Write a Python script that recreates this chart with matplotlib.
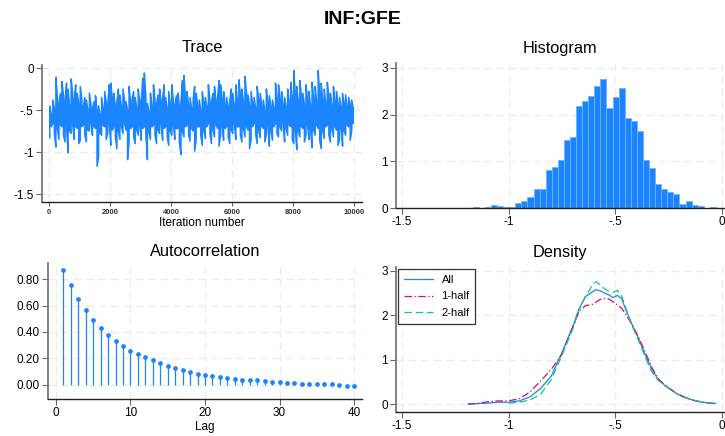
import numpy as np
import matplotlib.pyplot as plt

plt.rcParams['font.family'] = ['Liberation Sans', 'DejaVu Sans']

BLUE = '#1a85ff'
RED = '#d41159'
GREEN = '#1ac28a'
GRID = '#ebebeb'

# trace: per 50-iteration chunk, highest and lowest draw
trace_hi = [-0.45, -0.55, -0.38, -0.48, -0.11, -0.35, -0.42, -0.30, -0.16, -0.33,
            -0.40, -0.18, -0.25, -0.45, -0.13, -0.30, -0.38, -0.20, -0.30, -0.42,
            -0.22, -0.36, -0.45, -0.35, -0.38, -0.50, -0.30, -0.44, -0.48, -0.40,
            -0.33, -0.52, -0.45, -0.55, -0.35, -0.48, -0.28, -0.40, -0.44, -0.20,
            -0.18, -0.36, -0.30, -0.45, -0.40, -0.25, -0.32, -0.46, -0.25, -0.38,
            -0.40, -0.50, -0.22, -0.42, -0.36, -0.28, -0.35, -0.47, -0.25, -0.40,
            -0.38, -0.12, -0.06, -0.35, -0.42, -0.52, -0.30, -0.45, -0.20, -0.38,
            -0.43, -0.32, -0.25, -0.40, -0.36, -0.20, -0.35, -0.48, -0.28, -0.42,
            -0.20, -0.38, -0.44, -0.33, -0.30, -0.45, -0.40, -0.15, -0.09, -0.36,
            -0.28, -0.44, -0.35, -0.48, -0.38, -0.22, -0.30, -0.45, -0.38, -0.50,
            -0.28, -0.42, -0.35, -0.46, -0.20, -0.38, -0.42, -0.30, -0.22, -0.40,
            -0.36, -0.15, -0.20, -0.38, -0.28, -0.44, -0.35, -0.46, -0.40, -0.25,
            -0.30, -0.44, -0.20, -0.38, -0.14, -0.32, -0.25, -0.40, -0.10, -0.30,
            -0.32, -0.45, -0.28, -0.42, -0.35, -0.48, -0.22, -0.38, -0.30, -0.44,
            -0.38, -0.50, -0.25, -0.40, -0.33, -0.46, -0.38, -0.48, -0.18, -0.36,
            -0.20, -0.38, -0.28, -0.44, -0.35, -0.46, -0.25, -0.40, -0.17, -0.35,
            -0.03, -0.30, -0.22, -0.40, -0.15, -0.34, -0.30, -0.44, -0.20, -0.38,
            -0.28, -0.45, -0.17, -0.36, -0.22, -0.40, -0.03, -0.30, -0.18, -0.38,
            -0.25, -0.42, -0.17, -0.36, -0.30, -0.45, -0.22, -0.40, -0.28, -0.44,
            -0.35, -0.46, -0.30, -0.42, -0.32, -0.46, -0.35, -0.44, -0.38, -0.48]
trace_lo = [-0.83, -0.70, -0.66, -0.78, -0.94, -0.72, -0.85, -0.68, -0.70, -0.80,
            -0.88, -0.72, -1.01, -0.75, -0.78, -0.66, -0.85, -0.70, -0.72, -0.90,
            -0.86, -0.70, -0.68, -0.80, -0.88, -0.74, -0.75, -0.65, -0.80, -0.70,
            -0.72, -1.17, -1.06, -0.78, -0.80, -0.68, -0.70, -0.85, -0.78, -0.66,
            -0.92, -0.74, -0.70, -0.82, -0.96, -0.75, -0.85, -0.70, -0.78, -0.66,
            -0.74, -1.09, -0.88, -0.72, -0.70, -0.82, -0.90, -0.74, -0.80, -0.68,
            -0.86, -0.72, -0.70, -0.78, -1.09, -0.76, -0.85, -0.70, -0.68, -0.80,
            -0.90, -0.74, -0.78, -0.66, -0.86, -0.72, -0.70, -0.82, -0.92, -0.75,
            -0.80, -0.68, -0.85, -0.72, -0.72, -0.88, -1.03, -0.76, -0.82, -0.70,
            -0.68, -0.80, -0.87, -0.72, -0.75, -0.99, -0.85, -0.70, -0.70, -0.80,
            -0.92, -0.74, -0.84, -0.70, -0.66, -0.78, -0.90, -0.74, -0.82, -0.68,
            -0.72, -0.93, -0.80, -0.70, -0.86, -0.72, -0.70, -0.82, -0.90, -0.74,
            -0.78, -0.66, -0.85, -0.70, -0.70, -0.80, -0.88, -0.72, -0.82, -0.70,
            -0.74, -0.96, -0.85, -0.70, -0.66, -0.78, -0.90, -0.74, -0.83, -0.70,
            -0.72, -0.88, -0.80, -0.68, -0.93, -0.75, -0.86, -0.70, -0.66, -0.78,
            -0.82, -0.70, -0.75, -0.64, -0.88, -0.72, -0.80, -0.68, -0.70, -0.85,
            -0.90, -0.74, -0.97, -0.76, -0.82, -0.70, -0.72, -0.88, -0.80, -0.68,
            -0.85, -0.72, -0.95, -0.74, -0.80, -0.68, -0.72, -0.86, -0.96, -0.75,
            -0.84, -0.70, -0.68, -0.80, -0.88, -0.72, -0.82, -0.70, -0.74, -0.92,
            -0.85, -0.70, -0.93, -0.75, -0.80, -0.68, -0.70, -0.86, -0.75, -0.66]
chunk = 50

# histogram: 40 bins
hist_start = -1.168
hist_width = 0.0285
hist_heights = [0.02, 0.0, 0.02, 0.065, 0.05, 0.03, 0.03, 0.11, 0.16, 0.235,
                0.40, 0.40, 0.81, 0.88, 1.03, 1.46, 1.52, 2.19, 2.29, 2.40,
                2.62, 2.76, 2.15, 2.37, 2.58, 1.92, 1.87, 1.65, 1.03, 0.855,
                0.51, 0.40, 0.35, 0.31, 0.09, 0.14, 0.07, 0.05, 0.0, 0.02]

# autocorrelation, lags 1..40
lags = list(range(1, 41))
acf = [0.865, 0.752, 0.652, 0.566, 0.493, 0.430, 0.377, 0.330, 0.292, 0.259,
       0.231, 0.209, 0.186, 0.164, 0.143, 0.126, 0.111, 0.098, 0.086, 0.075,
       0.065, 0.058, 0.050, 0.045, 0.040, 0.035, 0.035, 0.033, 0.025, 0.020,
       0.015, 0.013, 0.010, 0.008, 0.008, 0.005, 0.005, 0.0, -0.005, -0.005]

# density
dens_x = [-1.19, -1.15, -1.10, -1.05, -1.00, -0.95, -0.90, -0.85, -0.80, -0.75,
          -0.70, -0.67, -0.64, -0.61, -0.59, -0.57, -0.55, -0.53, -0.51, -0.49,
          -0.47, -0.45, -0.42, -0.39, -0.36, -0.33, -0.30, -0.27, -0.24, -0.21,
          -0.18, -0.15, -0.12, -0.09, -0.06, -0.03]
dens_all = [0.0, 0.01, 0.02, 0.04, 0.04, 0.07, 0.16, 0.35, 0.63, 1.16,
            1.74, 2.14, 2.42, 2.52, 2.58, 2.55, 2.50, 2.46, 2.40, 2.45,
            2.38, 2.12, 1.78, 1.47, 1.12, 0.80, 0.56, 0.43, 0.33, 0.23,
            0.17, 0.11, 0.07, 0.04, 0.025, 0.015]
dens_h1 = [0.0, 0.01, 0.05, 0.07, 0.07, 0.12, 0.27, 0.52, 0.78, 1.12,
           1.72, 2.08, 2.22, 2.24, 2.30, 2.36, 2.38, 2.37, 2.30, 2.24,
           2.16, 2.02, 1.78, 1.50, 1.18, 0.84, 0.58, 0.44, 0.33, 0.23,
           0.16, 0.10, 0.07, 0.04, 0.02, 0.01]
dens_h2 = [np.nan, np.nan, np.nan, np.nan, 0.02, 0.04, 0.09, 0.22, 0.55, 1.10,
           1.68, 2.12, 2.42, 2.66, 2.76, 2.68, 2.60, 2.54, 2.52, 2.56,
           2.44, 2.16, 1.76, 1.42, 1.06, 0.74, 0.54, 0.42, 0.32, 0.23,
           0.16, 0.11, 0.07, 0.04, 0.02, 0.01]


def style(ax):
    for s in ['top', 'right']:
        ax.spines[s].set_visible(False)
    ax.spines['left'].set_color('#777777')
    ax.spines['left'].set_linewidth(1.3)
    ax.spines['bottom'].set_color('#222222')
    ax.spines['bottom'].set_linewidth(1.0)
    ax.tick_params(direction='out', length=4, width=0.8, color='#666666',
                   labelsize=8.5, pad=2)
    ax.grid(True, color=GRID, linestyle=(0, (6, 4)), linewidth=0.9)
    ax.set_axisbelow(True)


W, H = 725, 436
fig = plt.figure(figsize=(W / 100, H / 100), dpi=100)


def box(l, r, t, b):
    return [l / W, 1 - b / H, (r - l) / W, (b - t) / H]


def title(x, y, s):
    fig.text(x / W, 1 - y / H, s, ha='center', va='center', fontsize=11.8)


fig.text(0.5, 1 - 20 / H, 'INF:GFE', ha='center', va='center',
         fontsize=14, fontweight='bold')

# trace: each chunk drawn as a vertical run from its low to its high draw
ax1 = fig.add_axes(box(42, 362, 65, 202))
style(ax1)
tx, ty = [], []
for k in range(len(trace_hi)):
    c = k * chunk + chunk / 2
    tx += [c, c]
    ty += [trace_lo[k], trace_hi[k]] if k % 2 == 0 else [trace_hi[k], trace_lo[k]]
ax1.plot(tx, ty, color=BLUE, linewidth=1.1)
ax1.set_xlim(-230, 10262)
ax1.set_ylim(-1.595, 0.036)
ax1.set_xticks([0, 2000, 4000, 6000, 8000, 10000])
ax1.set_yticks([0, -0.5, -1, -1.5])
ax1.set_yticklabels(['0', '-.5', '-1', '-1.5'])
ax1.tick_params(axis='x', labelsize=5.5, length=3, labelcolor='#333333')
for lab in ax1.get_xticklabels():
    lab.set_fontweight('bold')
ax1.set_xlabel('Iteration number', fontsize=8.5, labelpad=1)
title(202, 48, 'Trace')

# histogram
ax2 = fig.add_axes(box(396, 724, 63, 208))
style(ax2)
edges = [hist_start + i * hist_width for i in range(len(hist_heights))]
ax2.bar(edges, hist_heights, width=hist_width, align='edge', color=BLUE,
        edgecolor='#6fb1ff', linewidth=0.6)
ax2.set_xlim(-1.528, 0.01)
ax2.set_ylim(0, 3.107)
ax2.set_xticks([-1.5, -1, -0.5, 0])
ax2.set_xticklabels(['-1.5', '-1', '-.5', '0'])
ax2.set_yticks([0, 1, 2, 3])
title(560, 48, 'Histogram')

# autocorrelation
ax3 = fig.add_axes(box(48, 362, 263, 399))
style(ax3)
ax3.vlines(lags, 0, acf, color=BLUE, linewidth=0.9)
ax3.plot(lags, acf, 'o', color=BLUE, markersize=2.4)
ax3.set_xlim(-1.07, 41.07)
ax3.set_ylim(-0.106, 0.921)
ax3.set_xticks([0, 10, 20, 30, 40])
ax3.set_yticks([0, 0.2, 0.4, 0.6, 0.8])
ax3.set_yticklabels(['0.00', '0.20', '0.40', '0.60', '0.80'])
ax3.set_xlabel('Lag', fontsize=8.5, labelpad=1)
title(205, 252, 'Autocorrelation')

# density
ax4 = fig.add_axes(box(396, 724, 267, 412))
style(ax4)
ax4.plot(dens_x, dens_all, color=BLUE, linewidth=0.9, label='All')
ax4.plot(dens_x, dens_h1, color=RED, linewidth=0.9, linestyle=(0, (6, 2, 1, 2)),
         label='1-half')
ax4.plot(dens_x, dens_h2, color=GREEN, linewidth=0.9, linestyle=(0, (6, 3)),
         label='2-half')
ax4.set_xlim(-1.528, 0.01)
ax4.set_ylim(-0.18, 3.09)
ax4.set_xticks([-1.5, -1, -0.5, 0])
ax4.set_xticklabels(['-1.5', '-1', '-.5', '0'])
ax4.set_yticks([0, 1, 2, 3])
title(560, 252, 'Density')
leg = ax4.legend(loc='upper left', fontsize=8, frameon=True, fancybox=False,
                 edgecolor='black', handlelength=2.6, borderaxespad=0.2,
                 labelspacing=0.6, borderpad=0.5)
leg.get_frame().set_linewidth(0.9)

fig.savefig('out.png', dpi=100)
